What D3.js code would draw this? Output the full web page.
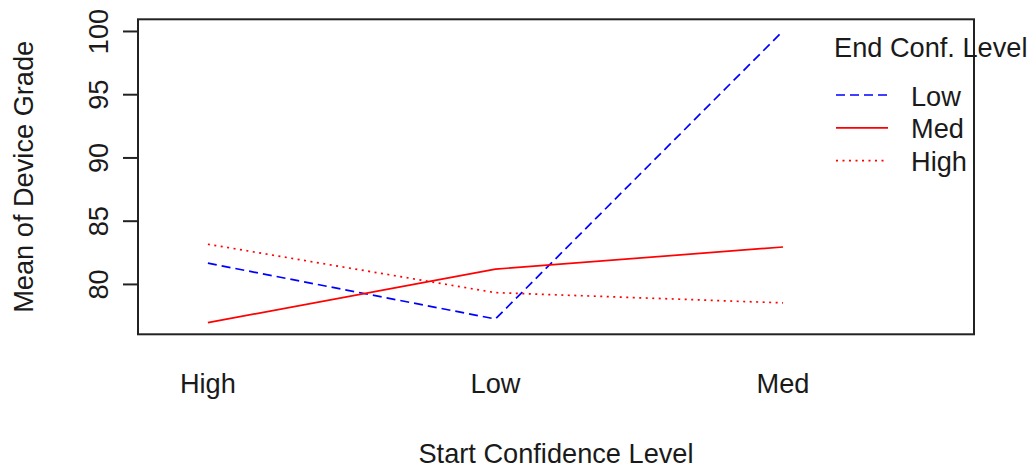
<!DOCTYPE html>
<html>
<head>
<meta charset="utf-8">
<script src="https://cdn.jsdelivr.net/npm/d3@7"></script>
<style>
  html, body { margin: 0; padding: 0; background: #fff; }
  svg { display: block; }
  text { font-family: "Liberation Sans", Arial, sans-serif; fill: #1a1a1a; }
</style>
</head>
<body>
<svg id="chart" width="1030" height="468"></svg>
<script>
// Start confidence levels (x factor)
const categories = ["High", "Low", "Med"];
// End confidence levels (trace factor)
const traceLevels = ["Low", "Med", "High"];
// Mean device grade per start level, one array per end level
const endLow  = [81.64, 77.23, 100.0];
const endMed  = [76.94, 81.17, 82.92];
const endHigh = [83.14, 79.31, 78.50];
const yTicks = [80, 85, 90, 95, 100];

const seriesValues = [endLow, endMed, endHigh];
const seriesColors = ["#0000ff", "#ff0000", "#ff0000"];
const seriesDash   = ["9,5", null, "2,4.5"];

const svg = d3.select("#chart");

const box = { left: 138, right: 974, top: 19.3, bottom: 334.3 };

// y range of all means, padded 4% on each side
const all = seriesValues.flat();
const lo = d3.min(all), hi = d3.max(all), pad = (hi - lo) * 0.04;
const y = d3.scaleLinear().domain([lo - pad, hi + pad]).range([box.bottom, box.top]);

// x positions 1..n, extra room on the right for the legend
const x = d3.scaleLinear().domain([0.757, 3.664]).range([box.left, box.right]);
const xPos = (i) => x(i + 1);

const fs = 27.2;

// plot frame
svg.append("rect")
  .attr("x", box.left).attr("y", box.top)
  .attr("width", box.right - box.left).attr("height", box.bottom - box.top)
  .attr("fill", "none").attr("stroke", "#222").attr("stroke-width", 2);

// y axis
const yAxis = d3.axisLeft(y).tickValues(yTicks).tickSize(15).tickPadding(0).tickFormat(d3.format("d"));
const gy = svg.append("g").attr("transform", `translate(${box.left},0)`).call(yAxis);
gy.select(".domain").remove();
gy.selectAll(".tick line").attr("stroke", "#222").attr("stroke-width", 2);
gy.selectAll(".tick text").remove();
gy.selectAll(".tick").append("text")
  .attr("transform", "translate(-30,0) rotate(-90)")
  .attr("text-anchor", "middle")
  .attr("font-size", fs)
  .text(d => d);

// x tick labels (no tick marks)
svg.append("g").selectAll("text").data(categories).join("text")
  .attr("x", (d, i) => xPos(i)).attr("y", 393)
  .attr("text-anchor", "middle").attr("font-size", fs)
  .text(d => d);

// axis titles
svg.append("text")
  .attr("x", (box.left + box.right) / 2).attr("y", 463)
  .attr("text-anchor", "middle").attr("font-size", fs)
  .text("Start Confidence Level");
svg.append("text")
  .attr("transform", `translate(33,${(box.top + box.bottom) / 2}) rotate(-90)`)
  .attr("text-anchor", "middle").attr("font-size", fs)
  .text("Mean of Device Grade");

// interaction lines
const line = d3.line().x((d, i) => xPos(i)).y(d => y(d));
svg.append("g").selectAll("path").data(seriesValues).join("path")
  .attr("d", d => line(d))
  .attr("fill", "none")
  .attr("stroke", (d, i) => seriesColors[i])
  .attr("stroke-width", 1.7)
  .attr("stroke-dasharray", (d, i) => seriesDash[i]);

// legend
const leg = svg.append("g");
leg.append("text").attr("x", 834).attr("y", 57).attr("font-size", fs).text("End Conf. Level");
const rows = leg.selectAll("g.row").data(traceLevels).join("g").attr("class", "row")
  .attr("transform", (d, i) => `translate(0,${95 + i * 32.8})`);
rows.append("line")
  .attr("x1", 836).attr("x2", 888).attr("y1", 0).attr("y2", 0)
  .attr("stroke", (d, i) => seriesColors[i])
  .attr("stroke-width", 1.7)
  .attr("stroke-dasharray", (d, i) => seriesDash[i]);
rows.append("text")
  .attr("x", 911).attr("y", 10.5).attr("font-size", fs)
  .text(d => d);
</script>
</body>
</html>
